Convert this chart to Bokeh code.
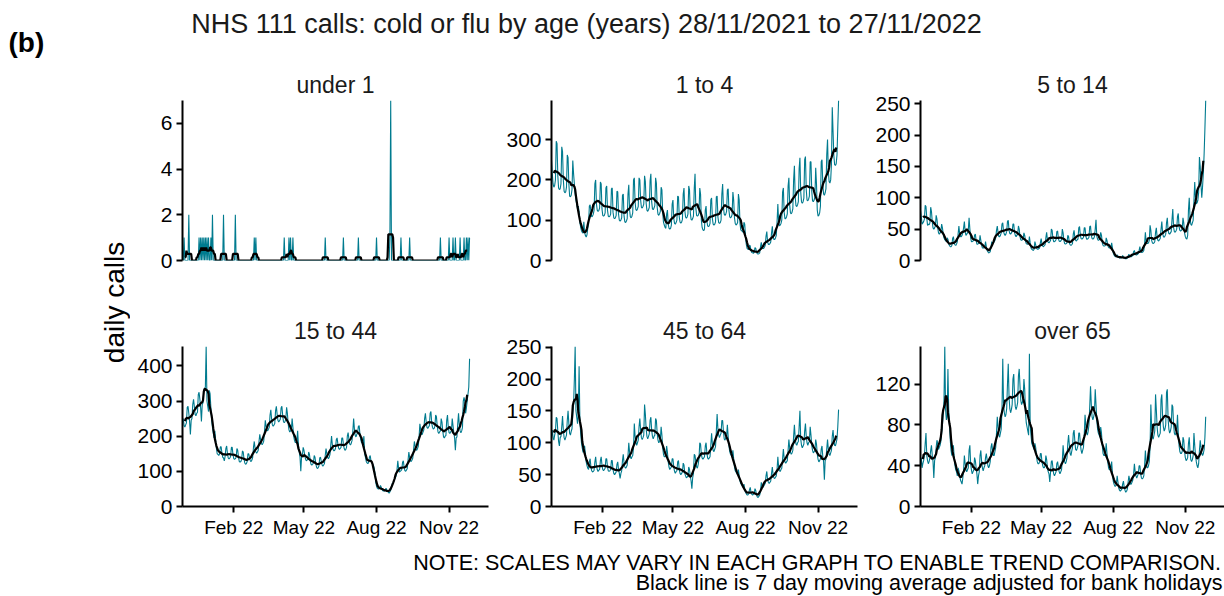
import pandas as pd
from bokeh.plotting import figure
from bokeh.layouts import row, column
from bokeh.models import Range1d, FixedTicker, DatetimeTickFormatter, ColumnDataSource
from bokeh.core.properties import value
from bokeh.embed import file_html
from bokeh.resources import INLINE

FONT = "Liberation Sans"
TEAL = "#007b8f"

main_title = "NHS 111 calls: cold or flu by age (years) 28/11/2021 to 27/11/2022"
panel_label = "(b)"
y_label = "daily calls"
note_1 = "NOTE: SCALES MAY VARY IN EACH GRAPH TO ENABLE TREND COMPARISON."
note_2 = "Black line is 7 day moving average adjusted for bank holidays"

first_day = "2021-11-28"
n_days = 365
x_axis_end = "2022-12-21"
x_tick_dates = ["2022-02-01", "2022-05-01", "2022-08-01", "2022-11-01"]
x_tick_labels = ["Feb 22", "May 22", "Aug 22", "Nov 22"]

panel_titles = ["under 1", "1 to 4", "5 to 14", "15 to 44", "45 to 64", "over 65"]
y_ticks = [[0, 2, 4, 6], [0, 100, 200, 300], [0, 50, 100, 150, 200, 250],
           [0, 100, 200, 300, 400], [0, 50, 100, 150, 200, 250], [0, 40, 80, 120]]

# daily calls, one week (Sun..Sat) per line, 28/11/2021 .. 27/11/2022
under_1 = [
    0, 0, 1, 0, 0, 0, 0,
    0, 2, 0, 0, 0, 0, 0,
    0, 0, 0, 0, 0, 0, 0,
    1, 0, 1, 0, 1, 0, 1,
    0, 1, 0, 1, 0, 1, 0,
    0, 1, 0, 2, 0, 0, 0,
    0, 0, 0, 0, 0, 0, 0,
    0, 0, 0, 2, 0, 0, 0,
    0, 0, 0, 0, 0, 0, 0,
    0, 0, 0, 0, 2, 0, 0,
    0, 0, 0, 0, 0, 0, 0,
    0, 0, 0, 0, 0, 0, 0,
    0, 0, 0, 0, 0, 0, 0,
    1, 0, 1, 0, 0, 0, 0,
    0, 0, 0, 0, 0, 0, 0,
    0, 0, 0, 0, 0, 0, 0,
    0, 0, 0, 0, 0, 0, 0,
    0, 0, 0, 0, 0, 0, 0,
    0, 0, 0, 1, 0, 0, 0,
    0, 0, 1, 0, 1, 0, 0,
    1, 0, 0, 0, 0, 0, 0,
    0, 0, 0, 0, 0, 0, 0,
    0, 0, 0, 0, 0, 0, 0,
    0, 0, 0, 0, 0, 0, 0,
    0, 0, 0, 0, 0, 0, 0,
    0, 0, 0, 0, 0, 0, 1,
    0, 0, 0, 0, 0, 0, 0,
    0, 0, 0, 0, 0, 0, 0,
    0, 0, 0, 0, 0, 0, 0,
    0, 1, 0, 0, 0, 0, 0,
    0, 0, 0, 0, 0, 0, 0,
    0, 0, 0, 0, 0, 0, 1,
    0, 0, 0, 0, 0, 0, 0,
    0, 0, 0, 0, 0, 0, 0,
    0, 0, 0, 0, 0, 0, 0,
    0, 1, 0, 0, 0, 0, 0,
    0, 0, 0, 0, 0, 0, 0,
    0, 0, 0, 0, 1, 7, 0,
    0, 0, 0, 0, 0, 0, 0,
    0, 0, 0, 0, 1, 0, 0,
    0, 0, 0, 0, 0, 0, 0,
    0, 1, 0, 0, 0, 0, 0,
    0, 0, 0, 0, 0, 0, 0,
    0, 0, 0, 0, 0, 0, 0,
    0, 0, 0, 0, 0, 0, 0,
    0, 0, 0, 0, 0, 0, 0,
    0, 0, 0, 0, 0, 1, 0,
    0, 0, 0, 0, 0, 0, 0,
    0, 0, 1, 0, 0, 0, 0,
    1, 0, 0, 1, 0, 0, 0,
    0, 0, 1, 0, 0, 0, 0,
    1, 0, 0, 1, 0, 1, 0,
    1,
]

age_1_to_4 = [
    250, 215, 190, 182, 186, 200, 296,
    290, 210, 180, 176, 178, 190, 282,
    270, 200, 172, 168, 170, 182, 262,
    255, 190, 160, 158, 162, 176, 248,
    215, 190, 165, 150, 140, 128, 135,
    120, 95, 82, 74, 70, 68, 96,
    70, 62, 58, 64, 80, 90, 135,
    138, 120, 108, 110, 115, 125, 190,
    200, 140, 125, 122, 124, 130, 195,
    190, 128, 112, 110, 112, 118, 180,
    185, 125, 110, 108, 110, 115, 178,
    180, 120, 106, 104, 106, 112, 172,
    170, 115, 100, 98, 100, 106, 162,
    165, 110, 96, 94, 98, 104, 165,
    188, 126, 108, 106, 110, 118, 200,
    205, 145, 126, 124, 128, 134, 205,
    200, 150, 132, 130, 134, 140, 210,
    196, 142, 125, 122, 126, 132, 198,
    215, 146, 128, 126, 130, 136, 205,
    192, 132, 115, 112, 116, 122, 182,
    175, 118, 95, 88, 82, 80, 115,
    125, 90, 80, 78, 80, 88, 140,
    150, 105, 92, 90, 94, 100, 160,
    158, 108, 95, 93, 95, 102, 165,
    180, 125, 108, 105, 108, 115, 185,
    175, 118, 102, 100, 104, 110, 178,
    215, 130, 112, 110, 112, 118, 180,
    165, 100, 82, 76, 74, 78, 125,
    135, 98, 86, 84, 86, 92, 150,
    155, 104, 90, 88, 90, 96, 158,
    160, 108, 94, 92, 94, 100, 165,
    190, 132, 115, 112, 115, 122, 175,
    178, 124, 108, 106, 108, 114, 170,
    150, 106, 92, 88, 90, 94, 165,
    150, 92, 76, 74, 72, 70, 95,
    90, 60, 40, 30, 28, 27, 38,
    36, 24, 20, 19, 18, 20, 32,
    30, 20, 17, 16, 17, 19, 34,
    45, 34, 30, 30, 33, 38, 60,
    72, 46, 40, 40, 42, 46, 68,
    85, 60, 52, 52, 56, 62, 95,
    140, 96, 86, 88, 92, 100, 170,
    180, 120, 104, 104, 108, 116, 185,
    205, 138, 118, 116, 120, 128, 200,
    235, 158, 136, 134, 138, 146, 228,
    255, 170, 146, 142, 146, 155, 250,
    258, 176, 150, 148, 152, 160, 245,
    245, 172, 148, 146, 150, 158, 230,
    190, 125, 110, 112, 118, 135, 245,
    250, 190, 165, 162, 168, 178, 262,
    300, 222, 196, 192, 200, 240, 380,
    320, 260, 238, 236, 240, 262, 330,
    397,
]

age_5_to_14 = [
    80, 70, 58, 60, 62, 66, 88,
    86, 68, 56, 58, 57, 60, 85,
    78, 62, 52, 50, 52, 55, 72,
    66, 52, 44, 42, 44, 46, 58,
    52, 42, 36, 33, 32, 30, 36,
    34, 26, 24, 22, 22, 24, 35,
    38, 28, 25, 24, 26, 30, 42,
    55, 42, 38, 38, 40, 44, 52,
    62, 46, 40, 42, 44, 48, 68,
    50, 36, 30, 30, 31, 32, 40,
    42, 32, 26, 26, 27, 28, 40,
    32, 24, 20, 20, 20, 21, 30,
    22, 16, 14, 12, 13, 14, 22,
    30, 28, 28, 30, 32, 36, 48,
    55, 44, 38, 38, 40, 44, 58,
    60, 46, 42, 40, 42, 46, 62,
    64, 48, 43, 42, 44, 46, 58,
    58, 45, 40, 38, 40, 42, 55,
    50, 38, 33, 32, 33, 34, 44,
    40, 31, 27, 26, 26, 27, 38,
    28, 20, 18, 17, 16, 18, 30,
    25, 20, 18, 18, 19, 20, 28,
    35, 26, 23, 22, 24, 25, 36,
    45, 33, 29, 28, 30, 32, 50,
    48, 35, 30, 30, 31, 33, 46,
    47, 35, 31, 30, 31, 33, 50,
    44, 32, 27, 26, 27, 28, 40,
    38, 28, 25, 24, 25, 27, 42,
    48, 36, 32, 31, 33, 34, 52,
    54, 40, 35, 34, 35, 37, 52,
    52, 39, 34, 34, 35, 37, 54,
    55, 40, 35, 34, 35, 38, 50,
    65, 39, 34, 32, 33, 34, 45,
    40, 28, 24, 23, 23, 24, 36,
    32, 24, 21, 20, 20, 21, 28,
    20, 12, 9, 7, 6, 6, 9,
    7, 5, 4, 4, 4, 5, 8,
    6, 4, 3, 3, 3, 4, 7,
    10, 7, 6, 6, 7, 8, 14,
    16, 10, 9, 9, 10, 11, 16,
    22, 14, 13, 13, 14, 16, 26,
    45, 30, 27, 27, 28, 32, 56,
    48, 32, 28, 27, 28, 30, 45,
    52, 37, 32, 31, 33, 35, 50,
    62, 44, 38, 37, 39, 42, 60,
    68, 48, 43, 42, 44, 46, 65,
    82, 53, 46, 45, 47, 50, 70,
    75, 54, 48, 47, 48, 50, 68,
    60, 44, 38, 35, 34, 40, 80,
    100, 68, 58, 56, 60, 64, 95,
    125, 100, 90, 92, 96, 108, 165,
    150, 120, 100, 118, 140, 170, 210,
    255,
]

age_15_to_44 = [
    240, 250, 230, 226, 232, 238, 282,
    285, 265, 242, 205, 245, 250, 290,
    305, 285, 262, 258, 265, 268, 318,
    325, 305, 280, 242, 290, 295, 330,
    335, 340, 455, 300, 285, 270, 330,
    320, 280, 245, 225, 210, 195, 215,
    190, 165, 150, 148, 145, 150, 170,
    170, 152, 140, 138, 130, 142, 165,
    172, 150, 138, 135, 138, 142, 168,
    168, 148, 136, 134, 136, 140, 165,
    160, 140, 128, 126, 128, 134, 158,
    155, 135, 124, 120, 122, 128, 150,
    150, 138, 130, 128, 132, 140, 168,
    185, 166, 155, 152, 155, 160, 185,
    205, 190, 180, 176, 180, 186, 215,
    245, 228, 218, 215, 220, 225, 260,
    275, 248, 232, 228, 232, 236, 272,
    285, 262, 245, 240, 244, 248, 280,
    285, 260, 242, 238, 242, 248, 282,
    265, 235, 218, 212, 215, 218, 250,
    225, 200, 188, 182, 182, 186, 215,
    175, 155, 140, 100, 142, 145, 168,
    160, 145, 135, 130, 132, 135, 155,
    148, 130, 120, 118, 120, 124, 145,
    140, 122, 112, 108, 110, 115, 138,
    140, 128, 118, 115, 118, 122, 145,
    165, 150, 140, 136, 140, 148, 175,
    200, 175, 162, 158, 160, 165, 190,
    195, 178, 166, 162, 165, 168, 195,
    195, 178, 165, 160, 162, 168, 200,
    210, 192, 178, 175, 180, 188, 215,
    250, 220, 202, 198, 205, 210, 228,
    230, 205, 190, 182, 180, 178, 200,
    150, 140, 128, 124, 122, 125, 140,
    145, 130, 125, 120, 118, 110, 95,
    70, 58, 52, 50, 50, 52, 60,
    55, 48, 45, 44, 44, 45, 52,
    48, 44, 40, 38, 42, 46, 55,
    65, 68, 72, 78, 82, 88, 105,
    130, 108, 98, 100, 102, 105, 125,
    130, 112, 102, 100, 104, 108, 132,
    155, 140, 130, 128, 132, 138, 162,
    185, 172, 162, 160, 165, 172, 200,
    235, 220, 205, 205, 212, 218, 250,
    265, 240, 225, 222, 226, 230, 265,
    270, 238, 225, 220, 222, 228, 260,
    255, 228, 212, 208, 212, 215, 250,
    240, 215, 198, 195, 200, 202, 245,
    260, 225, 210, 208, 212, 215, 250,
    230, 210, 195, 160, 195, 198, 235,
    265, 232, 215, 210, 215, 225, 300,
    310, 300, 265, 280, 300, 320, 340,
    420,
]

age_45_to_64 = [
    110, 120, 108, 104, 112, 118, 140,
    138, 118, 102, 95, 108, 110, 125,
    142, 120, 108, 104, 108, 112, 135,
    150, 130, 115, 112, 118, 122, 145,
    160, 200, 251, 150, 140, 130, 145,
    220, 135, 115, 100, 92, 85, 95,
    95, 82, 70, 64, 60, 58, 70,
    75, 62, 56, 54, 55, 57, 70,
    78, 64, 58, 55, 57, 58, 72,
    78, 65, 58, 56, 58, 60, 75,
    75, 62, 56, 55, 56, 58, 72,
    72, 58, 52, 50, 52, 54, 66,
    70, 58, 52, 44, 52, 56, 72,
    82, 68, 62, 60, 62, 65, 80,
    100, 85, 78, 75, 78, 80, 92,
    130, 110, 100, 96, 100, 104, 125,
    138, 120, 108, 105, 108, 112, 160,
    145, 122, 110, 106, 110, 114, 135,
    140, 120, 110, 106, 110, 112, 138,
    135, 115, 104, 100, 102, 105, 125,
    112, 92, 82, 78, 78, 80, 95,
    85, 70, 62, 58, 60, 62, 75,
    75, 62, 55, 52, 55, 56, 70,
    72, 58, 52, 50, 52, 54, 68,
    65, 52, 48, 45, 46, 48, 62,
    58, 48, 40, 28, 45, 52, 82,
    80, 70, 62, 60, 66, 75, 100,
    98, 82, 76, 74, 76, 78, 95,
    100, 84, 76, 74, 76, 78, 96,
    115, 98, 88, 86, 90, 94, 118,
    145, 122, 112, 108, 112, 115, 135,
    135, 118, 106, 104, 108, 110, 128,
    110, 95, 86, 82, 80, 78, 88,
    75, 62, 56, 54, 52, 50, 58,
    48, 40, 36, 34, 32, 30, 35,
    28, 22, 20, 18, 18, 20, 26,
    30, 22, 19, 18, 19, 20, 28,
    25, 18, 15, 14, 16, 18, 24,
    38, 32, 30, 32, 34, 36, 48,
    55, 42, 38, 36, 38, 40, 52,
    62, 50, 45, 44, 46, 48, 58,
    78, 62, 56, 55, 58, 60, 75,
    90, 76, 70, 68, 70, 72, 88,
    105, 92, 85, 82, 84, 88, 110,
    128, 108, 98, 96, 100, 102, 125,
    150, 106, 96, 92, 95, 98, 118,
    130, 110, 100, 96, 100, 102, 125,
    112, 96, 88, 84, 86, 88, 105,
    98, 82, 74, 70, 72, 75, 90,
    95, 78, 70, 42, 72, 74, 90,
    105, 90, 82, 80, 84, 88, 110,
    120, 104, 96, 95, 100, 106, 125,
    152,
]

age_over_65 = [
    40, 48, 38, 42, 45, 50, 62,
    72, 50, 45, 42, 44, 48, 55,
    60, 50, 44, 28, 45, 48, 58,
    65, 62, 56, 58, 60, 64, 72,
    80, 90, 105, 157, 95, 85, 88,
    135, 95, 80, 65, 55, 50, 58,
    60, 48, 40, 36, 34, 30, 38,
    35, 30, 26, 24, 22, 28, 36,
    50, 42, 36, 34, 36, 38, 55,
    60, 42, 36, 32, 34, 36, 48,
    45, 38, 32, 22, 30, 34, 50,
    55, 44, 38, 35, 38, 40, 48,
    52, 46, 40, 38, 40, 44, 58,
    62, 55, 50, 50, 54, 58, 72,
    88, 78, 70, 68, 72, 76, 95,
    145, 100, 92, 88, 90, 96, 120,
    140, 108, 96, 92, 95, 100, 125,
    130, 110, 98, 95, 98, 102, 128,
    135, 118, 104, 100, 102, 106, 125,
    115, 92, 82, 78, 74, 70, 150,
    80, 70, 62, 60, 58, 56, 62,
    58, 50, 44, 42, 42, 44, 52,
    52, 44, 40, 38, 38, 40, 50,
    46, 38, 34, 32, 24, 34, 44,
    45, 38, 32, 30, 32, 34, 42,
    44, 38, 34, 32, 34, 36, 45,
    60, 50, 44, 42, 44, 48, 62,
    70, 60, 52, 50, 54, 58, 72,
    75, 64, 56, 55, 57, 60, 72,
    72, 62, 55, 52, 55, 58, 70,
    90, 80, 72, 70, 74, 80, 98,
    118, 100, 88, 85, 88, 92, 115,
    100, 85, 76, 72, 70, 68, 78,
    72, 60, 52, 50, 50, 52, 62,
    52, 44, 38, 36, 36, 38, 44,
    32, 25, 22, 20, 20, 22, 30,
    24, 18, 16, 15, 16, 17, 22,
    25, 19, 16, 14, 15, 17, 24,
    30, 26, 22, 22, 24, 26, 32,
    42, 34, 30, 28, 30, 32, 40,
    40, 32, 28, 27, 28, 30, 40,
    55, 44, 38, 38, 40, 44, 58,
    100, 78, 68, 66, 70, 74, 110,
    95, 78, 70, 68, 70, 72, 105,
    110, 88, 78, 74, 76, 80, 112,
    115, 86, 76, 72, 74, 78, 100,
    98, 80, 72, 70, 72, 74, 90,
    72, 60, 54, 52, 52, 54, 68,
    65, 54, 48, 45, 46, 48, 62,
    68, 54, 46, 44, 46, 50, 72,
    60, 50, 44, 40, 38, 42, 55,
    65, 58, 52, 50, 52, 56, 68,
    88,
]

series = [under_1, age_1_to_4, age_5_to_14, age_15_to_44, age_45_to_64, age_over_65]

dates = pd.date_range(first_day, periods=n_days, freq="D")
x_start = pd.Timestamp(first_day)
x_end = pd.Timestamp(x_axis_end)
tick_ms = [pd.Timestamp(d).value // 10**6 for d in x_tick_dates]
fmt = "%b %y"


def style_axis(ax, size):
    ax.axis_line_color = "black"
    ax.axis_line_width = 2
    ax.major_tick_line_color = "black"
    ax.major_tick_line_width = 2
    ax.major_tick_out = 6
    ax.major_tick_in = 0
    ax.minor_tick_out = 0
    ax.minor_tick_in = 0
    ax.major_label_text_font = FONT
    ax.major_label_text_font_size = size
    ax.major_label_text_color = "black"
    ax.major_label_standoff = 4


def make_panel(i, width, left, right, height, top, bottom, show_x):
    vals = series[i]
    avg = pd.Series(vals, dtype=float).rolling(7, center=True).mean()
    src = ColumnDataSource(dict(date=dates, calls=vals, avg=avg.values))
    p = figure(width=width, height=height, x_axis_type="datetime",
               x_range=Range1d(x_start, x_end), y_range=Range1d(0, max(vals)),
               output_backend="svg", toolbar_location=None, title=panel_titles[i],
               min_border_left=left, min_border_right=right,
               min_border_top=top, min_border_bottom=bottom)
    p.title.align = "center"
    p.title.text_font = FONT
    p.title.text_font_size = "23px"
    p.title.text_font_style = "normal"
    p.title.text_color = "#1a1a1a"
    p.title.standoff = 6
    p.outline_line_color = None
    p.xgrid.visible = False
    p.ygrid.visible = False
    p.line("date", "calls", source=src, line_color=TEAL, line_width=1.1)
    p.line("date", "avg", source=src, line_color="black", line_width=2.2)
    p.yaxis.ticker = FixedTicker(ticks=y_ticks[i], minor_ticks=[])
    style_axis(p.yaxis[0], "21px")
    if show_x:
        p.xaxis.ticker = FixedTicker(ticks=tick_ms, minor_ticks=[])
        p.xaxis.formatter = DatetimeTickFormatter(days=fmt, months=fmt, years=fmt,
                                                  hours=fmt, hourmin=fmt, minutes=fmt,
                                                  minsec=fmt, seconds=fmt,
                                                  milliseconds=fmt, microseconds=fmt)
        style_axis(p.xaxis[0], "19px")
    else:
        p.xaxis.visible = False
    return p


def blank(width, height):
    f = figure(width=width, height=height, x_range=Range1d(0, width), y_range=Range1d(0, height),
               output_backend="svg", toolbar_location=None, min_border=0,
               x_axis_location=None, y_axis_location=None)
    f.outline_line_color = None
    f.grid.visible = False
    return f


W = 1224
header = blank(W, 60)
header.text(x=[8], y=[18], text=[panel_label], text_font=value(FONT), text_font_size=value("28px"),
            text_font_style="bold", text_align="left", text_baseline="middle", text_color="black")
header.text(x=[586], y=[37], text=[main_title], text_font=value(FONT), text_font_size=value("27px"),
            text_align="center", text_baseline="middle", text_color="#1a1a1a")

ylab = blank(130, 480)
ylab.text(x=[114], y=[238], text=[y_label], text_font=value(FONT), text_font_size=value("28px"),
          angle=1.5707963, text_align="center", text_baseline="middle", text_color="black")

widths = [369, 369, 356]
rights = [11, 11, 0]
top_row = [make_panel(i, widths[i], 52, rights[i], 240, 40, 40, False) for i in range(3)]
bot_row = [make_panel(i + 3, widths[i], 52, rights[i], 240, 46, 33, True) for i in range(3)]

footer = blank(W, 56)
footer.text(x=[1222, 1222], y=[34, 14], text=[note_1, note_2], text_font=value(FONT),
            text_font_size=value("21.5px"), text_align="right", text_baseline="middle",
            text_color="black")

layout = column(header,
                row(ylab, column(row(*top_row), row(*bot_row))),
                footer)

open("out.html", "w").write(file_html(layout, INLINE))
